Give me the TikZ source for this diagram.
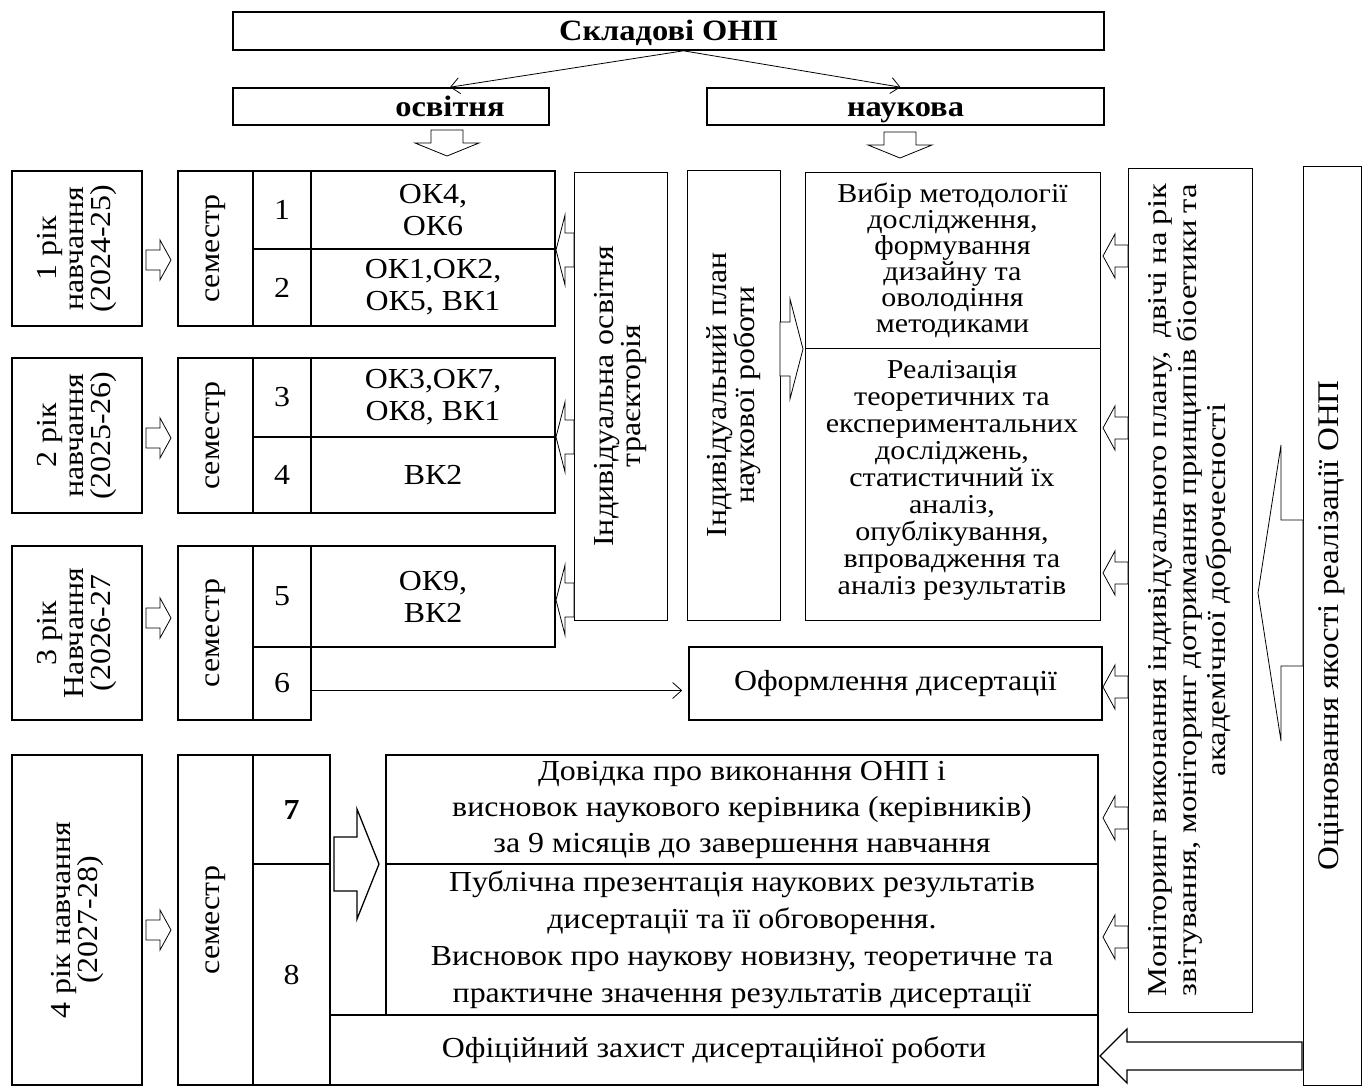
\documentclass[tikz,border=0pt]{standalone}
\usepackage{fontspec}
\setmainfont{Liberation Serif}[FakeStretch=1.1]
\newfontfamily\monfont{Liberation Serif}[FakeStretch=1.2]
\usetikzlibrary{arrows.meta}
\newcommand{\fs}[2]{\fontsize{#1}{#2}\selectfont}
% box from corners: style, name, x1, y1, x2, y2, text
\newcommand{\bx}[7]{\node[#1, minimum width={#5-#3}, minimum height={#6-#4}] (#2) at ({(#3+#5)/2},{(#4+#6)/2}) {#7};}
% horizontal block arrow: style, tail x, head-base x, tip x, centre y, shaft half, head half
\newcommand{\blkh}[7]{\draw[#1] ({#2},{#5-#6}) -- ({#3},{#5-#6}) -- ({#3},{#5-#7}) -- ({#4},{#5}) -- ({#3},{#5+#7}) -- ({#3},{#5+#6}) -- ({#2},{#5+#6}) -- cycle;}
% vertical block arrow: style, tail y, head-base y, tip y, centre x, shaft half, head half
\newcommand{\blkv}[7]{\draw[#1] ({#5-#6},{#2}) -- ({#5-#6},{#3}) -- ({#5-#7},{#3}) -- ({#5},{#4}) -- ({#5+#7},{#3}) -- ({#5+#6},{#3}) -- ({#5+#6},{#2}) -- cycle;}
\begin{document}
\begin{tikzpicture}[x=1pt,y=-1pt,
  thickbox/.style={draw, line width=1.6pt, inner sep=0pt, align=center, font=\fs{29}{32}},
  thinbox/.style={draw, line width=0.8pt, inner sep=0pt, align=center, font=\fs{27.3}{26}},
  txt/.style={inner sep=0pt, align=center, font=\fs{29}{27}},
  barrow/.style={draw, line width=0.8pt, fill=white, line join=miter},
  barrowk/.style={draw, line width=1.3pt, fill=white, line join=miter},
  thinline/.style={line width=0.8pt, -{Straight Barb[length=9pt,width=16pt]}},
  bold/.style={font=\fs{29.5}{32}\bfseries, text height=19pt, text depth=0pt}]
\useasboundingbox (0,0) rectangle (1363,1090);

% top level
\bx{thickbox,bold}{title}{233}{12}{1104}{50}{Складові ОНП}
\bx{thickbox}{osv}{233}{88}{549}{125}{}
\node[inner sep=0pt, bold] (osvt) at (450,106.5) {освітня};
\bx{thickbox,bold}{nauk}{707}{88}{1104}{125}{наукова}
\coordinate (ts) at ([xshift=15pt]title.south);
\draw[thinline] (ts) -- (osvt.north |- osv.north);
\draw[thinline] (ts) -- ([xshift=-5pt]nauk.north);
\blkv{barrow}{130}{143}{156}{447}{16}{32}
\blkv{barrow}{132}{145}{158}{900}{16}{32}

% year boxes
\bx{thickbox}{y1}{12}{171}{142}{326}{}
\node[txt,rotate=90] (y1t) at (y1.center) {1 рік\\навчання\\(2024-25)};
\bx{thickbox}{y2}{12}{358}{142}{513}{}
\node[txt,rotate=90] (y2t) at (y2.center) {2 рік\\навчання\\(2025-26)};
\bx{thickbox}{y3}{12}{546}{142}{720}{}
\node[txt,rotate=90] (y3t) at (y3.center) {3 рік\\Навчання\\(2026-27};
\bx{thickbox}{y4}{12}{755}{142}{1085}{}
\node[txt,rotate=90] (y4t) at (y4.center) {4 рік навчання\\(2027-28)};

\blkh{barrow}{146}{160}{171}{260}{10}{20}
\blkh{barrow}{146}{160}{171}{438}{10}{20}
\blkh{barrow}{146}{160}{171}{618}{10}{20}
\blkh{barrow}{146}{160}{171}{930}{10}{20}

% semester blocks
\bx{thickbox}{s1}{178}{171}{253}{326}{}
\node[txt,rotate=90] (s1t) at (s1.center) {семестр};
\bx{thickbox}{n1}{253}{171}{311}{249}{1}
\bx{thickbox}{n2}{253}{249}{311}{326}{2}
\bx{thickbox}{c1}{311}{171}{555}{249}{ОК4,\\ОК6}
\bx{thickbox}{c2}{311}{249}{555}{326}{ОК1,ОК2,\\ОК5, ВК1}

\bx{thickbox}{s2}{178}{358}{253}{513}{}
\node[txt,rotate=90] (s2t) at (s2.center) {семестр};
\bx{thickbox}{n3}{253}{358}{311}{437}{3}
\bx{thickbox}{n4}{253}{437}{311}{513}{4}
\bx{thickbox}{c3}{311}{358}{555}{437}{ОК3,ОК7,\\ОК8, ВК1}
\bx{thickbox}{c4}{311}{437}{555}{513}{ВК2}

\bx{thickbox}{s3}{178}{546}{253}{720}{}
\node[txt,rotate=90] (s3t) at (s3.center) {семестр};
\bx{thickbox}{n5}{253}{546}{311}{647}{5}
\bx{thickbox}{n6}{253}{647}{311}{720}{6}
\bx{thickbox}{c5}{311}{546}{555}{647}{ОК9,\\ВК2}

\bx{thickbox}{s4}{178}{755}{253}{1085}{}
\node[txt,rotate=90] (s4t) at (s4.center) {семестр};
\bx{thickbox}{n7}{253}{755}{330}{864}{\textbf{7}}
\bx{thickbox}{n8}{253}{864}{330}{1085}{8}
\bx{thickbox,font=\fs{29}{36}}{dov}{386}{755}{1098}{864}{Довідка про виконання ОНП і\\висновок наукового керівника (керівників)\\за 9 місяців до завершення навчання}
\bx{thickbox,font=\fs{29}{37}}{pub}{386}{864}{1098}{1015}{Публічна презентація наукових результатів\\дисертації та її обговорення.\\Висновок про наукову новизну, теоретичне та\\практичне значення результатів дисертації}
\bx{thickbox}{zah}{330}{1015}{1098}{1085}{Офіційний захист дисертаційної роботи}
\blkh{barrowk}{334}{357}{379}{864}{27}{55}

% individual trajectory
\bx{thinbox}{traj}{574}{172}{667}{620}{}
\node[txt,rotate=90,font=\fs{29}{23}] (trajt) at (traj.center) {Індивідуальна освітня\\траєкторія};
\blkh{barrow}{574}{565}{556}{250}{17}{35}
\blkh{barrow}{574}{565}{556}{437}{17}{35}
\blkh{barrow}{574}{565}{556}{600}{17}{35}

% scientific plan
\bx{thinbox}{plan}{687}{170}{780}{620}{}
\node[txt,rotate=90,font=\fs{29}{23}] (plant) at (plan.center) {Індивідуальний план\\наукової роботи};
\blkh{barrow}{780}{790}{803}{349}{27}{50}

\bx{thinbox}{vyb}{805}{172}{1100}{348}{Вибір методології\\дослідження,\\формування\\дизайну та\\оволодіння\\методиками}
\bx{thinbox}{real}{805}{348}{1100}{620}{}
\node[txt,font=\fs{27.3}{27}] (realt) at (952,480) {Реалізація\\теоретичних та\\експериментальних\\досліджень,\\статистичний їх\\аналіз,\\опублікування,\\впровадження та\\аналіз результатів};

\bx{thickbox}{oform}{689}{647}{1102}{720}{Оформлення дисертації}
\coordinate (six) at ([yshift=-7pt]n6.east);
\draw[thinline] (six) -- ([xshift=-6pt]six -| oform.west);

% monitoring
\bx{thinbox}{mon}{1128}{168}{1252}{1012}{}
\node[txt,rotate=90,font=\monfont\fs{27.2}{29.5}] (mont) at (mon.center) {\makebox[812pt][s]{Моніторинг виконання індивідуального плану,\ \ двічі на рік}\\\makebox[812pt][s]{звітування, моніторинг дотримання принципів біоетики та}\\академічної доброчесності};
\blkh{barrow}{1128}{1115}{1103}{256}{11}{22}
\blkh{barrow}{1128}{1115}{1103}{428}{11}{22}
\blkh{barrow}{1128}{1115}{1103}{573}{11}{22}
\blkh{barrow}{1128}{1115}{1103}{687}{11}{22}
\blkh{barrow}{1128}{1115}{1103}{818}{11}{22}
\blkh{barrow}{1128}{1115}{1103}{937}{11}{22}

% quality assessment
\bx{thinbox}{ocin}{1303}{166}{1361}{1085}{}
\node[txt,rotate=90,font=\fs{30}{30}] (ocint) at (ocin.center) {Оцінювання якості реалізації ОНП};
\blkh{barrow}{1303}{1281}{1258}{593}{73}{148}
\blkh{barrowk}{1302}{1127}{1100}{1056}{14}{27}
\end{tikzpicture}
\end{document}
